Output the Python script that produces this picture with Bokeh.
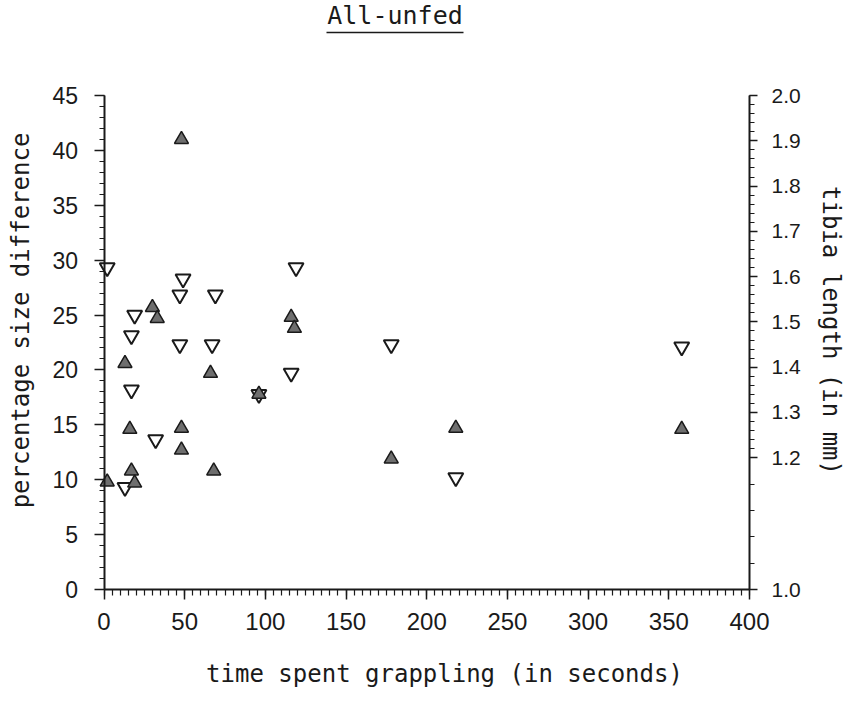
import numpy as np
from bokeh.plotting import figure
from bokeh.models import (Range1d, LinearAxis, FixedTicker, SingleIntervalTicker,
                          CustomJSTickFormatter)
from bokeh.core.properties import value
from bokeh.embed import file_html
from bokeh.resources import INLINE

# ---------------- data ----------------
title_text = "All-unfed"
x_label = "time spent grappling (in seconds)"
y_label = "percentage size difference"
y2_label = "tibia length (in mm)"

x_ticks = [0, 50, 100, 150, 200, 250, 300, 350, 400]
y_ticks = [0, 5, 10, 15, 20, 25, 30, 35, 40, 45]
tibia_ticks = [1.0, 1.2, 1.3, 1.4, 1.5, 1.6, 1.7, 1.8, 1.9, 2.0]

# right (tibia) axis is broken: 1.0-1.2 and 1.2-2.0 are drawn at different scales
tibia_axis_mm = [1.0, 1.2, 2.0]
tibia_axis_pct = [0.0, 12.0, 45.0]

# filled triangles: percentage size difference (left axis)
pct_time = [2, 13, 16, 17, 19, 30, 33, 48, 48, 48, 66, 68, 96, 116, 118, 178, 218, 358]
pct_value = [9.8, 20.6, 14.6, 10.8, 9.7, 25.7, 24.7, 41.0, 14.7, 12.7, 19.7, 10.8,
             17.8, 24.8, 23.8, 11.9, 14.7, 14.6]

# open triangles: tibia length in mm (right axis)
tibia_time = [2, 13, 17, 17, 19, 32, 47, 47, 49, 67, 69, 96, 116, 119, 178, 218, 358]
tibia_value = [1.62, 1.155, 1.35, 1.47, 1.515, 1.24, 1.45, 1.56, 1.595, 1.45, 1.56,
               1.34, 1.387, 1.62, 1.45, 1.17, 1.445]

# ---------------- layout (pixels on the page) ----------------
W, H = 848, 690
MARGIN = 8
AX_LEFT, AX_RIGHT = 111.5, 757.0     # page x of time 0 and 400
AX_BOTTOM, AX_TOP = 597.0, 103.0     # page y of 0 % and 45 %


def page_x(px):
    return x_ticks[0] + (px - AX_LEFT) / (AX_RIGHT - AX_LEFT) * (x_ticks[-1] - x_ticks[0])


def page_y(py):
    return y_ticks[0] + (AX_BOTTOM - py) / (AX_BOTTOM - AX_TOP) * (y_ticks[-1] - y_ticks[0])


FONT = "Liberation Sans"
TFONT = "DejaVu Sans Mono"
INK = "#1a1a1a"

p = figure(width=W, height=H, output_backend="svg", toolbar_location=None,
           x_range=Range1d(page_x(MARGIN), page_x(MARGIN + W)),
           y_range=Range1d(page_y(MARGIN + H), page_y(MARGIN)),
           min_border=0)
p.outline_line_color = None
p.xgrid.visible = False
p.ygrid.visible = False
p.background_fill_color = "white"
p.border_fill_color = "white"

# x axis
xa = p.xaxis[0]
xa.ticker = SingleIntervalTicker(interval=50, num_minor_ticks=10)
xa.bounds = (x_ticks[0], x_ticks[-1])
xa.fixed_location = y_ticks[0]
# left axis
ya = p.yaxis[0]
ya.ticker = SingleIntervalTicker(interval=5, num_minor_ticks=5)
ya.bounds = (y_ticks[0], y_ticks[-1])
ya.fixed_location = x_ticks[0]

# right axis
tick_pos = list(np.interp(tibia_ticks, tibia_axis_mm, tibia_axis_pct))
minor_mm = list(np.round(np.arange(1.0, 1.2, 0.04), 3)) + list(np.round(np.arange(1.2, 2.0001, 0.02), 3))
minor_pos = list(np.interp(minor_mm, tibia_axis_mm, tibia_axis_pct))
fmt = CustomJSTickFormatter(args=dict(mm=tibia_axis_mm, pc=tibia_axis_pct), code="""
    let t;
    if (tick <= pc[1]) t = mm[0] + (tick - pc[0]) * (mm[1] - mm[0]) / (pc[1] - pc[0]);
    else t = mm[1] + (tick - pc[1]) * (mm[2] - mm[1]) / (pc[2] - pc[1]);
    return t.toFixed(1);
""")
ra = LinearAxis(ticker=FixedTicker(ticks=tick_pos, minor_ticks=minor_pos), formatter=fmt,
                bounds=(y_ticks[0], y_ticks[-1]), fixed_location=x_ticks[-1])
p.add_layout(ra, "right")

for ax in (xa, ya, ra):
    ax.axis_line_color = INK
    ax.axis_line_width = 2
    ax.major_tick_line_color = INK
    ax.minor_tick_line_color = INK
    ax.major_tick_line_width = 1.5
    ax.minor_tick_line_width = 1.2
    ax.major_tick_in = 0
    ax.minor_tick_in = 0
    ax.major_label_text_font = FONT
    ax.major_label_text_color = INK

xa.major_tick_out = 10
xa.minor_tick_out = 6
xa.major_label_text_font_size = "24px"
xa.major_label_standoff = 13

ya.major_tick_out = 10
ya.minor_tick_out = 5
ya.major_label_text_font_size = "23px"
ya.major_label_standoff = 16

ra.major_tick_out = 8
ra.minor_tick_out = 5
ra.major_label_text_font_size = "21px"
ra.major_label_standoff = 14

# ---------------- axis titles ----------------
tstyle = dict(text_font=value(TFONT), text_font_size="24px", text_color=INK,
              text_align="center", text_baseline="middle")
p.text(x=[page_x(452)], y=[page_y(681)], text=[x_label], **tstyle)
p.text(x=[page_x(28)], y=[page_y(328)], text=[y_label], angle=np.pi / 2, **tstyle)
p.text(x=[page_x(838)], y=[page_y(338)], text=[y2_label], angle=-np.pi / 2, **tstyle)

# ---------------- marks ----------------
tibia_pos = np.interp(tibia_value, tibia_axis_mm, tibia_axis_pct)
p.scatter(x=tibia_time, y=tibia_pos, marker="inverted_triangle", size=15,
          fill_alpha=0, line_color=INK, line_width=2)
p.scatter(x=pct_time, y=pct_value, marker="triangle", size=14,
          fill_color="#6e6e6e", line_color=INK, line_width=1.5)

# ---------------- title (underlined) ----------------
p.text(x=[page_x(402.5)], y=[page_y(23)], text=[title_text], text_font=value(TFONT),
       text_font_size="25px", text_align="center", text_baseline="middle",
       text_color=INK)
p.segment(x0=[page_x(334)], x1=[page_x(471)], y0=[page_y(40)], y1=[page_y(40)],
          line_color=INK, line_width=1.5)

open("out.html", "w").write(file_html(p, INLINE))
